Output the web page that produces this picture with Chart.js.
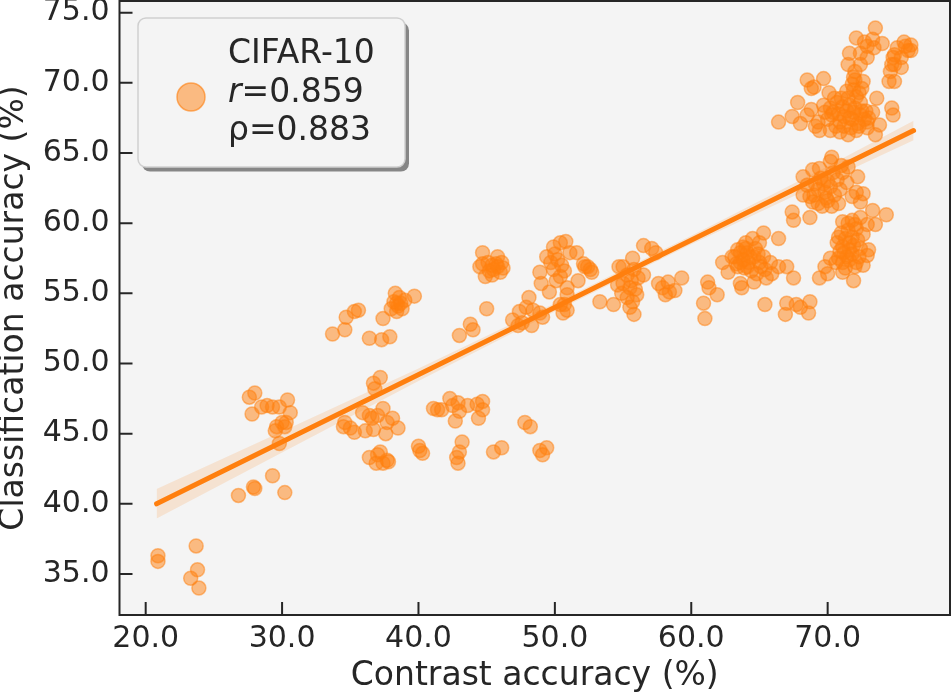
<!DOCTYPE html>
<html>
<head>
<meta charset="utf-8">
<script src="https://cdn.jsdelivr.net/npm/chart.js@4.4.1/dist/chart.umd.min.js"></script>
<style>
  body { margin: 0; background: #fff; }
  canvas { display: block; }
</style>
</head>
<body>
<canvas id="scatter-chart" width="952" height="695"></canvas>
<script>
// axis ticks and ranges
const xTicks = [20, 30, 40, 50, 60, 70];
const yTicks = [35, 40, 45, 50, 55, 60, 65, 70, 75];
const xRange = [18.08, 78.97];
const yRange = [32.08, 75.83];

// legend text
const datasetName = 'CIFAR-10';
const pearsonR = '0.859';
const spearmanRho = '0.883';

// scatter points [contrast acc, classification acc], read by cluster
const groupA = [[20.9,36.3],[20.9,35.9],[23.7,37.0],[23.8,35.3],[23.3,34.7],[23.9,34.0]];
const groupB = [[26.8,40.6],[27.9,41.2],[28.0,41.1],[29.3,42.0],[30.2,40.8],
  [27.6,47.6],[28.0,47.9],[27.8,46.4],[28.5,46.9],[28.9,47.0],[29.3,46.9],[29.8,46.9],[30.4,47.4],
  [30.6,46.5],[30.0,45.8],[29.6,45.5],[29.5,45.2],[29.8,44.3],[30.2,45.5],[30.3,45.8]];
const groupC = [[33.7,52.1],[34.6,52.4],[34.7,53.3],[35.3,53.7],[35.6,53.8],
  [36.4,51.8],[37.3,51.7],[37.9,51.9],[37.4,53.2],[38.3,55.0],[38.6,54.7],[38.2,54.4],[38.5,54.1],
  [39.0,54.5],[39.7,54.8],[38.0,53.9],[38.4,53.7],[38.8,53.9],[38.4,54.3],[38.7,54.3]];
const groupD = [[36.7,48.6],[37.2,49.0],[36.8,48.2],[35.9,46.5],[36.4,46.3],[34.6,45.8],[34.5,45.5],
  [35.0,45.4],[35.3,45.1],[36.1,45.2],[36.6,46.1],[37.0,46.3],[37.4,46.8],[37.7,45.8],[38.1,46.1],
  [38.5,45.4],[37.6,45.0],[36.7,45.3],[36.4,43.3],[37.0,43.5],[36.9,42.9],[37.7,43.1],[37.4,42.9],
  [37.8,43.0],[37.2,43.7]];
const groupE = [[40.0,44.1],[40.1,43.8],[40.3,43.6],[41.1,46.8],[41.4,46.7],
  [41.7,46.7],[42.3,47.5],[42.5,47.0],[42.9,47.2],[43.0,46.6],[42.7,45.9],[43.6,47.0],[44.3,47.1],
  [44.7,47.3],[44.7,46.7],[44.4,46.1],[43.2,44.4],[43.0,43.7],[42.8,43.3],[42.9,42.9],[45.5,43.7],
  [46.1,44.0],[47.8,45.8],[48.2,45.5],[48.9,43.8],[49.4,44.0],[49.1,43.5]];
const groupF = [[43.0,52.0],[43.8,52.8],[44.0,52.4],[45.0,53.9],
  [44.7,57.9],[44.5,56.9],[45.1,57.2],[45.8,57.6],[46.1,57.2],[45.5,56.7],[46.0,56.5],[44.9,56.2],
  [45.4,56.3],[46.2,56.8],[45.7,57.1],[44.7,57.1],[45.4,57.0],[45.8,56.9],[45.2,56.6]];
const groupG = [[46.9,53.1],[47.4,53.7],[48.1,54.7],[47.9,54.0],[48.4,53.8],[48.3,52.7],[48.9,53.6],
  [49.1,53.3],[47.6,52.9],[47.3,52.7],
  [49.9,58.3],[50.4,58.6],[50.8,58.7],[51.1,57.9],[51.6,57.9],[49.4,57.6],[49.7,57.2],[49.9,56.7],
  [48.9,56.5],[49.0,55.7],[49.6,55.1],[50.1,55.9],[50.7,56.6],[50.9,55.4],[50.9,54.9],[51.7,55.9],
  [52.1,57.1],[52.4,56.9],[52.7,56.5],[50.7,54.2],[50.6,53.6],[50.9,53.8],[50.4,54.2],[52.2,56.9],
  [52.6,56.7],[53.3,54.4],[54.3,54.2],[50.2,57.4],[50.5,57.0],[50.0,57.8],[50.4,56.2]];
const groupH = [[54.7,56.9],[54.6,55.6],[55.0,56.9],[55.7,57.5],[56.5,58.4],[57.1,58.2],[57.4,57.9],
  [55.3,56.3],[55.8,56.7],[56.1,56.1],[56.5,56.3],[55.0,55.7],[55.5,55.4],[54.9,55.0],[55.3,54.7],
  [55.7,54.4],[55.5,54.0],[55.8,53.5],[56.0,54.9],[57.6,55.7],[57.9,55.4],[58.3,55.8],[58.4,55.1],
  [58.8,55.2],[59.3,56.1],[58.1,54.9],[55.6,55.9],[55.9,55.3],
  [61.2,55.8],[61.3,55.4],[61.9,54.9],[60.9,54.3],[61.0,53.2]];
const groupI = [[62.3,57.2],[63.0,57.6],[63.4,58.1],[63.8,58.3],[64.5,58.9],[65.3,59.3],[65.0,58.6],
  [64.1,57.9],[64.6,57.6],[63.6,57.2],[63.4,56.9],[64.1,56.9],[62.7,56.5],[65.0,57.2],[65.4,56.7],
  [64.8,56.4],[65.5,56.1],[65.9,56.4],[63.6,55.7],[63.7,55.4],[64.6,55.8],[65.4,54.2],[66.4,58.9],
  [65.3,57.6],[65.8,57.2],[66.4,56.9],[67.0,56.9],[67.5,56.1],[66.9,53.5],[67.0,54.3],[67.7,54.2],
  [68.7,54.4],[68.6,53.6],[68.0,54.0]];
const groupJ = [[71.1,60.1],[71.8,60.2],[72.4,60.4],[73.3,60.9],[74.3,60.6],[72.9,59.9],[73.5,59.9],
  [71.5,59.5],[72.1,59.6],[70.8,59.0],[71.8,59.0],[72.6,59.2],[70.7,58.6],[71.1,58.3],[71.9,58.4],
  [72.4,58.2],[73.0,58.1],[71.6,58.1],[72.9,57.7],[71.4,57.6],[70.8,57.5],[70.2,57.5],[70.6,57.2],
  [71.1,57.2],[71.6,57.4],[72.1,57.2],[72.6,57.0],[72.0,56.9],[71.3,56.8],[69.8,56.9],[70.0,56.4],
  [69.4,56.1],[71.1,56.5],[71.9,55.9]];
const groupK = [[68.2,63.3],[68.9,63.8],[69.4,63.9],[70.3,64.7],[70.2,64.4],[68.5,62.7],[68.2,62.0],
  [68.7,61.9],[69.3,62.4],[69.7,62.8],[69.9,61.8],[69.3,61.4],[68.7,60.4],[67.4,60.8],[67.5,60.2],
  [70.3,61.2],[70.8,61.4],[70.9,62.4],[71.4,62.9],[70.7,63.1],[72.2,63.3],[72.1,62.2],[72.6,62.1],
  [72.4,61.5],[71.1,63.6],[71.5,64.0],[71.0,64.1],[69.0,62.0],[70.0,63.0],[69.6,61.2],[71.8,61.9]];
const groupL = [[73.5,73.9],[72.1,73.2],[72.7,72.9],[73.3,73.1],[74.0,72.8],[72.9,72.6],[73.4,72.5],
  [71.6,72.1],[72.4,72.1],[72.9,71.8],[71.5,71.3],[72.0,70.8],[72.6,70.1],[72.0,70.2],[68.5,70.2],
  [69.7,70.3],[68.8,69.6],[69.0,69.7],[71.9,69.5],[72.1,69.0],[73.6,68.9],[67.8,68.6],[66.4,67.2],
  [67.4,67.6],[68.0,67.1],[68.8,68.1],[68.5,67.7],[69.7,68.4],[70.2,68.2],[70.7,68.6],[71.1,68.3],
  [71.6,68.4],[72.4,68.6],[74.7,68.2],[74.8,67.7],[69.3,67.2],[69.4,66.6],[70.2,66.6],[70.9,66.5],
  [71.5,66.3],[72.1,66.6],[72.9,66.8],[73.5,66.3],[73.8,67.0],[70.9,67.2],[71.6,67.5],[72.4,67.7],
  [72.9,67.2],[70.3,67.7],[71.9,67.9],[73.3,67.9],[71.8,69.9],[72.3,69.3],[71.5,68.9],[72.8,68.0],
  [70.5,68.9],[72.2,67.1]];
const groupM = [[75.6,72.9],[75.9,72.3],[75.1,72.5],[74.9,72.0],[75.4,71.8],[74.8,71.8],[74.7,71.3],
  [74.9,71.3],[75.4,71.1],[74.6,70.8],[74.5,70.1],[74.9,70.1],[76.1,72.3],[76.1,72.7],[75.7,72.6]];
// overlapping points in the densest spots
const groupN = [[70.4,67.9],[70.8,67.8],[71.2,67.6],[71.4,68.0],[71.8,67.4],[72.0,68.2],[72.5,68.0],
  [72.7,67.4],[70.6,66.9],[71.2,66.9],[71.7,66.8],[72.3,66.9],[70.0,67.4],[69.8,67.9],[71.0,68.9],
  [71.4,69.4],[72.5,69.6],[71.9,70.4],[72.4,71.3],[73.0,67.5],[70.1,69.3],[69.1,66.9]];
const groupO = [[63.2,57.6],[63.6,57.9],[64.0,58.2],[64.3,57.6],[63.8,57.4],[64.2,57.2],[63.3,57.1],
  [64.7,58.2],[64.9,57.8],[63.9,56.8],[64.4,56.6],[65.1,56.9],[64.0,58.6],
  [71.0,59.3],[71.3,58.9],[71.6,58.6],[72.2,58.8],[71.2,57.9],[71.8,57.8],[72.3,57.6],[70.9,58.0],
  [72.0,59.9],[71.5,60.0],
  [69.1,62.8],[69.5,63.2],[70.2,62.6],[70.5,62.0],[69.8,62.2],[70.4,63.6],[68.9,61.5],[70.0,61.6]];

// regression fit line and its confidence band
const fitX = [20.8, 76.3];
const fitY = [40.0, 66.6];
const bandX = [20.8, 30, 40, 50, 60, 70, 76.3];
const bandLow = [38.95, 43.65, 48.75, 53.7, 58.5, 63.05, 65.9];
const bandHigh = [41.05, 45.15, 49.65, 54.3, 59.1, 64.05, 67.3];

const allPoints = [].concat(groupA, groupB, groupC, groupD, groupE, groupF, groupG,
  groupH, groupI, groupJ, groupK, groupL, groupM, groupN, groupO);

const orange = 'rgb(255, 127, 14)';
const textColor = '#262626';
Chart.defaults.font.family = '"DejaVu Sans", sans-serif';
Chart.defaults.color = textColor;

function roundedBox(ctx, x, y, w, h, r) {
  ctx.beginPath();
  ctx.moveTo(x + r, y);
  ctx.arcTo(x + w, y, x + w, y + h, r);
  ctx.arcTo(x + w, y + h, x, y + h, r);
  ctx.arcTo(x, y + h, x, y, r);
  ctx.arcTo(x, y, x + w, y, r);
  ctx.closePath();
}

function drawLegend(ctx) {
  ctx.save();
  // shadow, then frame
  roundedBox(ctx, 142, 22.5, 267, 149, 8);
  ctx.fillStyle = 'rgba(0, 0, 0, 0.45)';
  ctx.fill();
  roundedBox(ctx, 138, 18, 267, 149, 8);
  ctx.fillStyle = '#f4f4f4';
  ctx.fill();
  ctx.strokeStyle = '#cfcfcf';
  ctx.lineWidth = 1.5;
  ctx.stroke();

  ctx.beginPath();
  ctx.arc(191, 97, 14, 0, Math.PI * 2);
  ctx.fillStyle = 'rgba(255, 127, 14, 0.5)';
  ctx.fill();
  ctx.strokeStyle = 'rgba(255, 127, 14, 0.6)';
  ctx.lineWidth = 1.5;
  ctx.stroke();

  ctx.fillStyle = textColor;
  ctx.textBaseline = 'alphabetic';
  ctx.textAlign = 'left';
  ctx.font = '33px "DejaVu Sans"';
  ctx.fillText(datasetName, 228, 63);
  ctx.font = 'italic 33px "DejaVu Sans"';
  ctx.fillText('r', 228, 102);
  let w = ctx.measureText('r').width;
  ctx.font = '33px "DejaVu Sans"';
  ctx.fillText('=' + pearsonR, 228 + w, 102);
  ctx.fillText('ρ=' + spearmanRho, 228, 140);
  ctx.restore();
}

const axesStyle = {
  id: 'axesStyle',
  beforeDraw(chart) {
    const {ctx, chartArea: a} = chart;
    ctx.save();
    ctx.fillStyle = '#f4f4f4';
    ctx.fillRect(a.left, a.top, a.right - a.left, a.bottom - a.top);
    ctx.restore();
  },
  afterDraw(chart) {
    const {ctx, chartArea: a, scales} = chart;
    ctx.save();
    ctx.strokeStyle = textColor;
    ctx.lineWidth = 2;
    ctx.strokeRect(a.left, a.top, a.right - a.left, a.bottom - a.top);
    ctx.beginPath();
    scales.x.ticks.forEach(t => { //inward tick marks
      const px = scales.x.getPixelForValue(t.value);
      ctx.moveTo(px, a.bottom);
      ctx.lineTo(px, a.bottom - 13);
    });
    scales.y.ticks.forEach(t => {
      const py = scales.y.getPixelForValue(t.value);
      ctx.moveTo(a.left, py);
      ctx.lineTo(a.left + 13, py);
    });
    ctx.stroke();
    ctx.restore();
    drawLegend(ctx);
  }
};

const ctx = document.getElementById('scatter-chart').getContext('2d');
new Chart(ctx, {
  type: 'scatter',
  data: {
    datasets: [
      {
        type: 'line',
        label: 'fit',
        data: fitX.map((x, i) => ({x: x, y: fitY[i]})),
        borderColor: orange,
        borderWidth: 5,
        borderCapStyle: 'round',
        pointRadius: 0,
        fill: false,
        order: 0,
      },
      {
        type: 'line',
        label: 'ci low',
        data: bandX.map((x, i) => ({x: x, y: bandLow[i]})),
        borderWidth: 0,
        pointRadius: 0,
        fill: false,
        order: 1,
      },
      {
        type: 'line',
        label: 'ci high',
        data: bandX.map((x, i) => ({x: x, y: bandHigh[i]})),
        borderWidth: 0,
        pointRadius: 0,
        backgroundColor: 'rgba(255, 127, 14, 0.15)',
        fill: '-1',
        order: 1,
      },
      {
        label: datasetName,
        data: allPoints.map(p => ({x: p[0], y: p[1]})),
        backgroundColor: 'rgba(255, 127, 14, 0.5)',
        borderColor: 'rgba(255, 127, 14, 0.5)',
        borderWidth: 1.5,
        pointRadius: 7,
        order: 2,
      },
    ],
  },
  options: {
    responsive: false,
    animation: false,
    layout: { autoPadding: false, padding: { top: 1, right: 2, left: 0, bottom: 0 } },
    plugins: { legend: { display: false }, tooltip: { enabled: false } },
    scales: {
      x: {
        type: 'linear',
        min: xRange[0],
        max: xRange[1],
        afterFit: s => { s.height = 80; s.paddingLeft = 0; s.paddingRight = 0; },
        afterBuildTicks: s => { s.ticks = xTicks.map(v => ({value: v})); },
        grid: { display: false, drawTicks: false },
        border: { display: false },
        ticks: {
          padding: 6,
          autoSkip: false,
          maxRotation: 0,
          font: { size: 30 },
          callback: v => v.toFixed(1),
        },
        title: {
          display: true,
          text: 'Contrast accuracy (%)',
          font: { size: 33, lineHeight: 1.1 },
          padding: 0,
        },
      },
      y: {
        type: 'linear',
        min: yRange[0],
        max: yRange[1],
        afterFit: s => { s.width = 119.5; s.paddingTop = 0; s.paddingBottom = 0; },
        afterBuildTicks: s => { s.ticks = yTicks.map(v => ({value: v})); },
        grid: { display: false, drawTicks: false },
        border: { display: false },
        ticks: {
          padding: 10,
          autoSkip: false,
          font: { size: 30 },
          callback: v => v.toFixed(1),
        },
        title: {
          display: true,
          text: 'Classification accuracy (%)',
          font: { size: 33, lineHeight: 0.88 },
          padding: 0,
        },
      },
    },
  },
  plugins: [axesStyle],
});
</script>
</body>
</html>
